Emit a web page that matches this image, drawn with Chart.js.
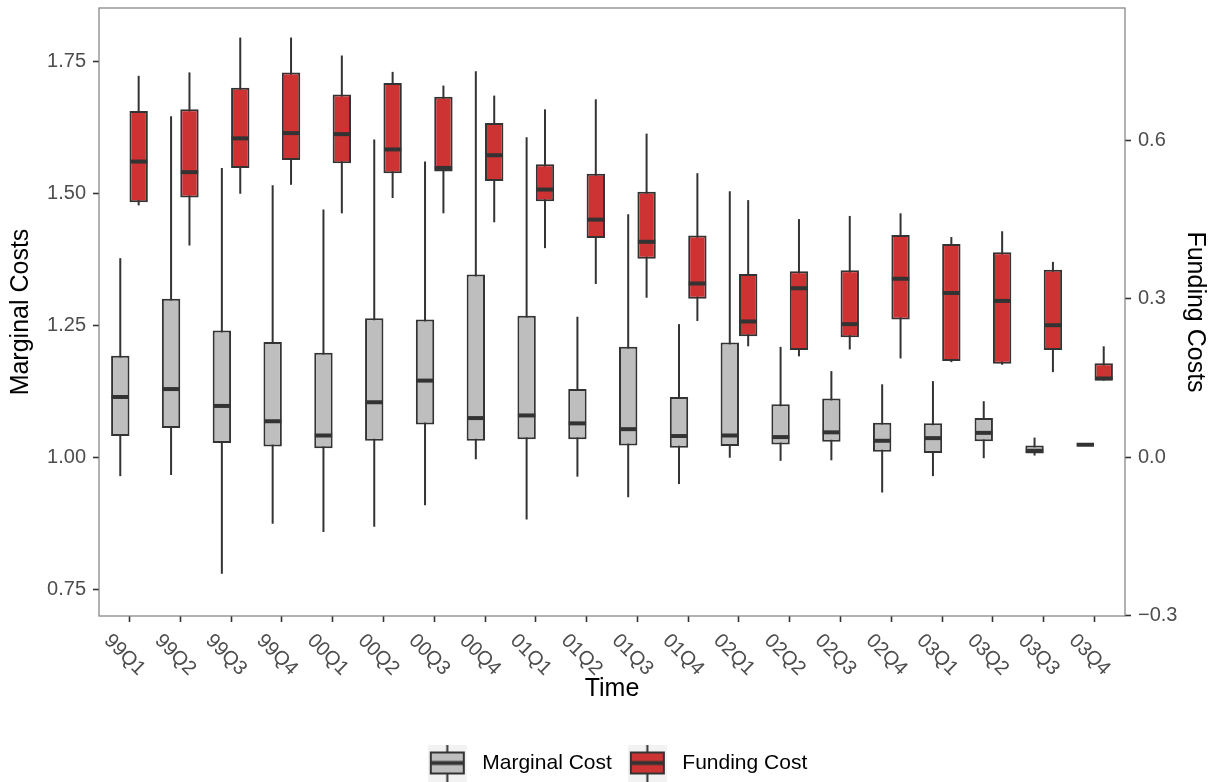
<!DOCTYPE html>
<html>
<head>
<meta charset="utf-8">
<title>Marginal and Funding Costs</title>
<script src="https://cdn.jsdelivr.net/npm/chart.js@4.4.1/dist/chart.umd.min.js"></script>
<style>
  html, body { margin: 0; padding: 0; background: #fff; }
  #wrap { width: 1214px; height: 782px; }
</style>
</head>
<body>
<div id="wrap"><canvas id="costChart"></canvas></div>
<script>
const quarters = ['99Q1', '99Q2', '99Q3', '99Q4', '00Q1', '00Q2', '00Q3', '00Q4', '01Q1', '01Q2',
  '01Q3', '01Q4', '02Q1', '02Q2', '02Q3', '02Q4', '03Q1', '03Q2', '03Q3', '03Q4'];

// Marginal cost (left axis)
const mcMin = [0.964, 0.966, 0.779, 0.874, 0.858, 0.868, 0.909, 0.996, 0.882, 0.963,
  0.924, 0.949, 0.999, 0.993, 0.994, 0.933, 0.964, 0.998, 1.003, 1.0225];
const mcQ1 = [1.040, 1.055, 1.027, 1.020, 1.017, 1.031, 1.062, 1.031, 1.034, 1.034,
  1.022, 1.018, 1.021, 1.024, 1.029, 1.010, 1.008, 1.030, 1.007, 1.023];
const mcMed = [1.114, 1.129, 1.097, 1.068, 1.041, 1.104, 1.145, 1.074, 1.079, 1.064,
  1.053, 1.040, 1.041, 1.038, 1.047, 1.031, 1.036, 1.046, 1.012, 1.0235];
const mcQ3 = [1.192, 1.300, 1.240, 1.218, 1.198, 1.263, 1.261, 1.346, 1.268, 1.129,
  1.209, 1.114, 1.217, 1.100, 1.111, 1.065, 1.064, 1.074, 1.022, 1.024];
const mcMax = [1.377, 1.646, 1.548, 1.515, 1.469, 1.602, 1.560, 1.731, 1.606, 1.266,
  1.460, 1.252, 1.504, 1.209, 1.163, 1.138, 1.144, 1.106, 1.037, 1.0245];

// Funding cost (right axis)
const fcMin = [0.477, 0.401, 0.499, 0.516, 0.462, 0.491, 0.462, 0.445, 0.396, 0.328,
  0.302, 0.258, 0.210, 0.191, 0.204, 0.187, 0.180, 0.175, 0.161, 0.145];
const fcQ1 = [0.483, 0.492, 0.548, 0.563, 0.557, 0.538, 0.541, 0.523, 0.485, 0.415,
  0.376, 0.300, 0.229, 0.203, 0.227, 0.261, 0.182, 0.177, 0.203, 0.145];
const fcMed = [0.560, 0.540, 0.604, 0.614, 0.612, 0.583, 0.548, 0.572, 0.507, 0.450,
  0.408, 0.329, 0.257, 0.320, 0.252, 0.338, 0.311, 0.296, 0.250, 0.149];
const fcQ3 = [0.656, 0.659, 0.700, 0.729, 0.687, 0.709, 0.683, 0.633, 0.555, 0.537,
  0.503, 0.420, 0.347, 0.352, 0.354, 0.421, 0.404, 0.388, 0.355, 0.178];
const fcMax = [0.7225, 0.729, 0.795, 0.795, 0.761, 0.730, 0.704, 0.685, 0.659, 0.678,
  0.613, 0.538, 0.487, 0.451, 0.457, 0.462, 0.417, 0.428, 0.370, 0.210];

const leftTicks = [0.75, 1.00, 1.25, 1.50, 1.75];
const rightTicks = [-0.3, 0.0, 0.3, 0.6];

const greyFill = '#BEBEBE';
const redFill = '#CD3333';
const lineCol = '#333333';

Chart.defaults.font.family = "'Liberation Sans', Arial, Helvetica, sans-serif";

// whisker range + median for each box dataset
const boxStats = [
  { min: mcMin, med: mcMed, max: mcMax },
  { min: fcMin, med: fcMed, max: fcMax }
];

// Legend key that looks like a little boxplot
function legendIcon(fill) {
  const c = document.createElement('canvas');
  c.width = 44;
  c.height = 38;
  const g = c.getContext('2d');
  g.fillStyle = '#F2F2F2';
  g.fillRect(0, 0, 39, 38);
  g.strokeStyle = lineCol;
  g.lineWidth = 2;
  g.beginPath();
  g.moveTo(19.5, 0);
  g.lineTo(19.5, 38);
  g.stroke();
  g.fillStyle = fill;
  g.fillRect(3, 8, 33, 21);
  g.strokeRect(3, 8, 33, 21);
  g.lineWidth = 4;
  g.beginPath();
  g.moveTo(3, 18.5);
  g.lineTo(36, 18.5);
  g.stroke();
  return c;
}

// Whiskers behind the boxes, medians on top, plus panel border and x labels
const boxplotPlugin = {
  id: 'boxplot',
  beforeDatasetsDraw(chart) {
    const ctx = chart.ctx;
    ctx.save();
    ctx.strokeStyle = lineCol;
    ctx.lineWidth = 2;
    boxStats.forEach((st, d) => {
      const meta = chart.getDatasetMeta(d);
      if (meta.hidden) return;
      const yScale = chart.scales[meta.yAxisID];
      meta.data.forEach((el, i) => {
        ctx.beginPath();
        ctx.moveTo(el.x, yScale.getPixelForValue(st.min[i]));
        ctx.lineTo(el.x, yScale.getPixelForValue(st.max[i]));
        ctx.stroke();
      });
    });
    ctx.restore();
  },
  afterDatasetsDraw(chart) {
    const ctx = chart.ctx;
    const area = chart.chartArea;
    ctx.save();
    ctx.strokeStyle = lineCol;
    ctx.lineWidth = 4;
    boxStats.forEach((st, d) => {
      const meta = chart.getDatasetMeta(d);
      if (meta.hidden) return;
      const yScale = chart.scales[meta.yAxisID];
      meta.data.forEach((el, i) => {
        const y = yScale.getPixelForValue(st.med[i]);
        ctx.beginPath();
        ctx.moveTo(el.x - el.width / 2 + 0.5, y);
        ctx.lineTo(el.x + el.width / 2 - 0.5, y);
        ctx.stroke();
      });
    });

    // panel border
    ctx.strokeStyle = '#7F7F7F';
    ctx.lineWidth = 1.2;
    ctx.strokeRect(area.left, area.top, area.right - area.left, area.bottom - area.top);

    // x tick labels, turned 45 degrees clockwise
    const xScale = chart.scales.x;
    ctx.fillStyle = '#4D4D4D';
    ctx.font = "20px 'Liberation Sans', Arial, sans-serif";
    ctx.textAlign = 'center';
    ctx.textBaseline = 'middle';
    quarters.forEach((q, i) => {
      ctx.save();
      ctx.translate(xScale.getPixelForValue(i) - 5, area.bottom + 39);
      ctx.rotate(Math.PI / 4);
      ctx.fillText(q, 0, 0);
      ctx.restore();
    });
    ctx.restore();
  }
};

const tickGrid = {
  drawOnChartArea: false,
  drawTicks: true,
  tickLength: 6,
  tickColor: lineCol,
  tickWidth: 1.6,
  offset: false
};

// fixed axis sizes, and no extra room for end labels
function fixSize(w, h) {
  return s => {
    if (w) s.width = w;
    if (h) s.height = h;
    s.paddingTop = 0;
    s.paddingBottom = 0;
    s.paddingLeft = 0;
    s.paddingRight = 0;
  };
}

const chart = new Chart(document.getElementById('costChart'), {
  type: 'bar',
  data: {
    datasets: [
      {
        label: 'Marginal Cost',
        yAxisID: 'y',
        data: quarters.map((q, i) => ({ x: i, y: [mcQ1[i], mcQ3[i]] })),
        backgroundColor: greyFill,
        borderColor: lineCol,
        borderWidth: 2,
        borderSkipped: false,
        categoryPercentage: 0.724,
        barPercentage: 1.0
      },
      {
        label: 'Funding Cost',
        yAxisID: 'y2',
        data: quarters.map((q, i) => ({ x: i, y: [fcQ1[i], fcQ3[i]] })),
        backgroundColor: redFill,
        borderColor: lineCol,
        borderWidth: 2,
        borderSkipped: false,
        categoryPercentage: 0.724,
        barPercentage: 1.0
      }
    ]
  },
  options: {
    responsive: true,
    maintainAspectRatio: false,
    animation: false,
    layout: { padding: { top: 8, left: 21, right: 0, bottom: -2 } },
    plugins: {
      tooltip: { enabled: false },
      legend: {
        position: 'bottom',
        labels: {
          usePointStyle: true,
          pointStyleWidth: 44,
          padding: 16,
          color: '#000',
          font: { size: 21 },
          generateLabels: () => [
            { text: 'Marginal Cost', pointStyle: legendIcon(greyFill), fillStyle: greyFill, strokeStyle: lineCol, lineWidth: 0, hidden: false, datasetIndex: 0 },
            { text: 'Funding Cost', pointStyle: legendIcon(redFill), fillStyle: redFill, strokeStyle: lineCol, lineWidth: 0, hidden: false, datasetIndex: 1 }
          ]
        }
      }
    },
    scales: {
      x: {
        type: 'linear',
        min: -0.6,
        max: 19.6,
        offset: false,
        afterBuildTicks: s => { s.ticks = quarters.map((q, i) => ({ value: i })); },
        afterFit: fixSize(0, 121),
        grid: tickGrid,
        border: { display: false },
        ticks: { color: 'rgba(0,0,0,0)', autoSkip: false, maxRotation: 0, callback: v => quarters[v] },
        title: { display: true, text: 'Time', color: '#000', font: { size: 25 }, padding: { top: 0, bottom: 33 } }
      },
      y: {
        type: 'linear',
        position: 'left',
        min: 0.699,
        max: 1.851,
        afterBuildTicks: s => { s.ticks = leftTicks.map(v => ({ value: v })); },
        afterFit: fixSize(78, 0),
        grid: tickGrid,
        border: { display: false },
        ticks: { color: '#4D4D4D', font: { size: 20 }, padding: 7, callback: v => v.toFixed(2) },
        title: { display: true, text: 'Marginal Costs', color: '#000', font: { size: 25 }, padding: { top: -15, bottom: 0 } }
      },
      y2: {
        type: 'linear',
        position: 'right',
        min: -0.301,
        max: 0.851,
        afterBuildTicks: s => { s.ticks = rightTicks.map(v => ({ value: v })); },
        afterFit: fixSize(89, 0),
        grid: tickGrid,
        border: { display: false },
        ticks: { color: '#4D4D4D', font: { size: 20 }, padding: 7, callback: v => v.toFixed(1).replace('-', '\u2212') },
        title: { display: true, text: 'Funding Costs', color: '#000', font: { size: 25 }, padding: { top: 4.5, bottom: 0 } }
      }
    }
  },
  plugins: [boxplotPlugin]
});
</script>
</body>
</html>
